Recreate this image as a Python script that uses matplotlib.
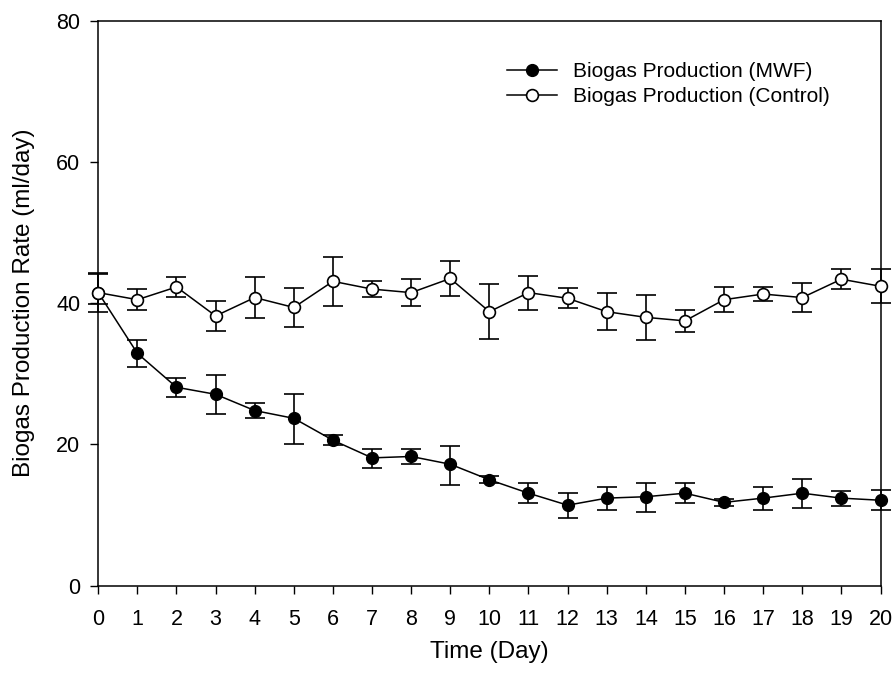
import numpy as np
import matplotlib.pyplot as plt

plt.rcParams['font.family'] = ['Liberation Sans', 'DejaVu Sans']

days = np.arange(0, 21)

mwf = [41.5, 32.9, 28.1, 27.1, 24.8, 23.7, 20.6, 18.1, 18.3, 17.2, 15.0,
       13.1, 11.4, 12.4, 12.6, 13.1, 11.8, 12.4, 13.1, 12.4, 12.1]
mwf_err_lo = [1.6, 2.0, 1.4, 2.8, 1.0, 3.6, 0.7, 1.4, 1.0, 2.9, 0.5,
              1.4, 1.8, 1.7, 2.1, 1.4, 0.5, 1.7, 2.1, 1.1, 1.4]
mwf_err_hi = [2.7, 1.9, 1.3, 2.7, 1.0, 3.4, 0.7, 1.3, 1.0, 2.6, 0.5,
              1.4, 1.7, 1.6, 2.0, 1.4, 0.5, 1.6, 2.0, 1.0, 1.4]

control = [41.5, 40.5, 42.3, 38.2, 40.8, 39.4, 43.1, 42.0, 41.5, 43.5, 38.8,
           41.5, 40.7, 38.8, 38.0, 37.5, 40.5, 41.3, 40.8, 43.4, 42.4]
control_err = [2.8, 1.5, 1.4, 2.1, 2.9, 2.7, 3.5, 1.1, 1.9, 2.5, 3.9,
               2.4, 1.4, 2.6, 3.2, 1.6, 1.8, 1.0, 2.1, 1.4, 2.4]

fig = plt.figure(figsize=(8.95, 6.82), dpi=100)
ax = fig.add_axes([0.1098, 0.1412, 0.874, 0.8284])


def unclip(container):
    for part in container.get_children():
        part.set_clip_on(False)


# error bars first, lines + markers on top
eb = ax.errorbar(days, mwf, yerr=[mwf_err_lo, mwf_err_hi], fmt='none',
                 ecolor='black', elinewidth=1.2, capsize=7, capthick=1.2, zorder=2)
unclip(eb)
ax.plot(days, mwf, '-o', color='black', lw=1.1, markersize=8.5,
        markerfacecolor='black', markeredgecolor='black',
        label='Biogas Production (MWF)', zorder=3, clip_on=False)

eb = ax.errorbar(days, control, yerr=control_err, fmt='none',
                 ecolor='black', elinewidth=1.2, capsize=7, capthick=1.2, zorder=4)
unclip(eb)
ax.plot(days, control, '-o', color='black', lw=1.1, markersize=8.5,
        markerfacecolor='white', markeredgecolor='black', markeredgewidth=1.2,
        label='Biogas Production (Control)', zorder=5, clip_on=False)

ax.set_xlim(0, 20)
ax.set_ylim(0, 80)
ax.set_xticks(range(0, 21))
ax.set_yticks([0, 20, 40, 60, 80])
ax.tick_params(direction='out', length=6, width=1, labelsize=15.5)
ax.tick_params(axis='x', pad=11)
ax.tick_params(axis='y', pad=7)
for s in ax.spines.values():
    s.set_linewidth(1.1)

ax.set_xlabel('Time (Day)', fontsize=17.5, labelpad=8)
ax.set_ylabel('Biogas Production Rate (ml/day)', fontsize=17.5, labelpad=15)

ax.legend(loc='upper left', bbox_to_anchor=(0.555, 0.924),
          bbox_transform=fig.transFigure, frameon=False, fontsize=15,
          handlelength=2.4, handletextpad=0.75, labelspacing=0.3,
          borderpad=0)

fig.savefig('out.png', dpi=100)
